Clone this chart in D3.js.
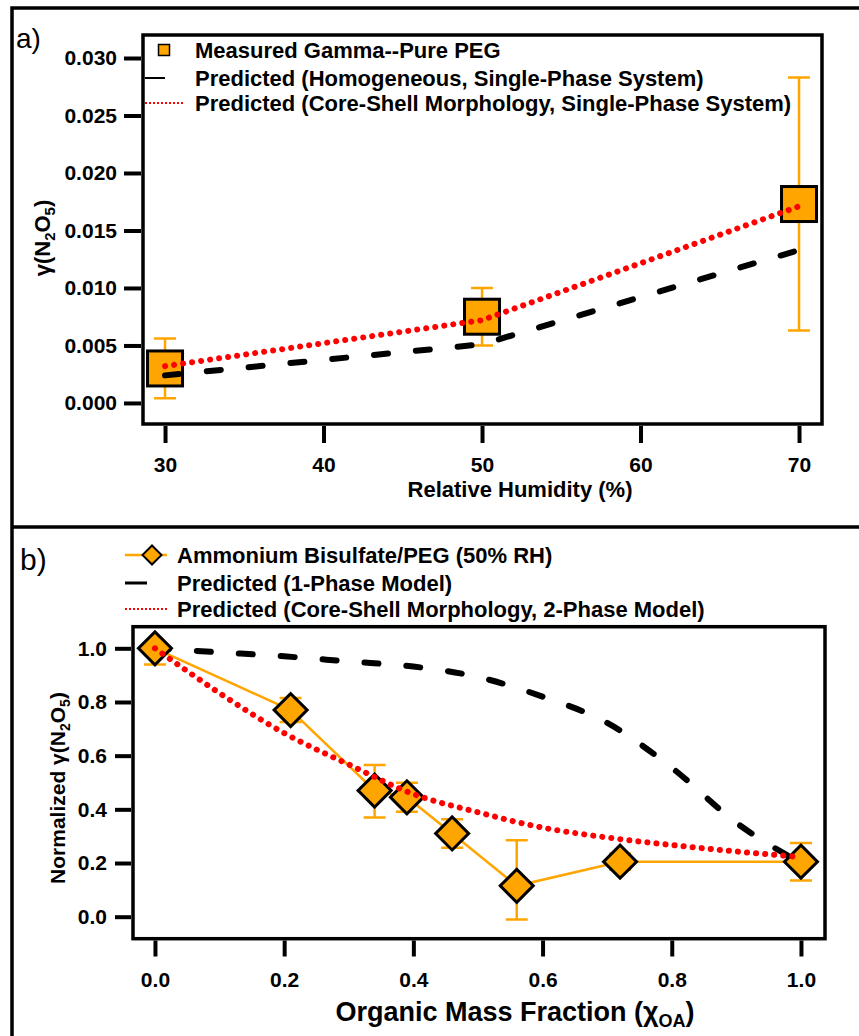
<!DOCTYPE html>
<html lang="en">
<head>
<meta charset="utf-8">
<title>N2O5 uptake: pure PEG and ammonium bisulfate/PEG</title>
<script src="https://cdn.jsdelivr.net/npm/d3@7"></script>
<style>
body { margin: 0; background: #fff; }
svg text { font-family: "Liberation Sans", Arial, sans-serif; }
</style>
</head>
<body>
<script>

// ---- panel a: pure PEG vs relative humidity ----
var rhValues = [30, 50, 70];
var gammaMeasured = [0.0030, 0.0075, 0.0173];
var gammaErr = [0.0026, 0.0025, 0.0110];
var gammaHomogeneous = [0.0024, 0.0051, 0.0133];
var gammaCoreShell = [0.0032, 0.0072, 0.0171];
var rhTicks = [30, 40, 50, 60, 70];
var gammaTicks = [0, 0.005, 0.010, 0.015, 0.020, 0.025, 0.030];
var legendA = ["Measured Gamma--Pure PEG",
               "Predicted (Homogeneous, Single-Phase System)",
               "Predicted (Core-Shell Morphology, Single-Phase System)"];

// ---- panel b: ammonium bisulfate/PEG at 50% RH ----
var chiValues = [0, 0.21, 0.34, 0.39, 0.46, 0.56, 0.72, 1.0];
var normMeasured = [1.0, 0.77, 0.47, 0.445, 0.31, 0.115, 0.205, 0.205];
var normErrLow = [0.06, 0.045, 0.10, 0.054, 0.053, 0.125, 0.03, 0.07];
var normErrHigh = [0, 0.045, 0.095, 0.054, 0.053, 0.17, 0.03, 0.07];
var chiModel = [0, 0.1, 0.2, 0.3, 0.4, 0.5, 0.6, 0.7, 0.8, 0.9, 1.0];
var norm1Phase = [1.0, 0.985, 0.970, 0.951, 0.932, 0.893, 0.82, 0.722, 0.555, 0.35, 0.2];
var normCoreShell = [1.0, 0.833, 0.684, 0.567, 0.457, 0.389, 0.332, 0.295, 0.267, 0.243, 0.222];
var chiTicks = [0, 0.2, 0.4, 0.6, 0.8, 1.0];
var normTicks = [0, 0.2, 0.4, 0.6, 0.8, 1.0];
var legendB = ["Ammonium Bisulfate/PEG (50% RH)",
               "Predicted (1-Phase Model)",
               "Predicted (Core-Shell Morphology, 2-Phase Model)"];

var w = 859, h = 1036;
var orange = "#FFA500", red = "#FF0000";

var svg = d3.select("body").append("svg")
            .attr("width", w)
            .attr("height", h);

// outer panel borders
svg.append("path")
   .attr("d", "M12,1036 V8 H859 M12,527 H859")
   .attr("fill", "none")
   .attr("stroke", "black")
   .attr("stroke-width", 3.5);

// ================= panel a =================
var xA = d3.scaleLinear().domain([28.61, 71.45]).range([143, 822]);
var yA = d3.scaleLinear().domain([-0.00183, 0.032]).range([424, 35]);

var gA = svg.append("g");

// error bars
rhValues.forEach(function(rh, i) {
	var x = xA(rh), yLo = yA(gammaMeasured[i] - gammaErr[i]), yHi = yA(gammaMeasured[i] + gammaErr[i]);
	gA.append("path")
	  .attr("d", "M" + x + "," + yLo + " V" + yHi +
	             " M" + (x - 11) + "," + yLo + " H" + (x + 11) +
	             " M" + (x - 11) + "," + yHi + " H" + (x + 11))
	  .attr("stroke", orange)
	  .attr("stroke-width", 2.5)
	  .attr("fill", "none");
});

// squares
gA.selectAll("rect.pt")
  .data(rhValues)
  .enter()
  .append("rect")
  .attr("class", "pt")
  .attr("x", function(d) { return xA(d) - 17.5; })
  .attr("y", function(d, i) { return yA(gammaMeasured[i]) - 17.5; })
  .attr("width", 35)
  .attr("height", 35)
  .attr("fill", orange)
  .attr("stroke", "black")
  .attr("stroke-width", 3);

var lineA = d3.line()
              .x(function(d) { return xA(d[0]); })
              .y(function(d) { return yA(d[1]); });

// homogeneous model (dashed)
gA.append("path")
  .attr("d", lineA(d3.zip(rhValues, gammaHomogeneous)))
  .attr("fill", "none")
  .attr("stroke", "black")
  .attr("stroke-width", 6)
  .attr("stroke-linecap", "round")
  .attr("stroke-dasharray", "14,28");

// core-shell model (dotted)
gA.append("path")
  .attr("d", lineA(d3.zip(rhValues, gammaCoreShell)))
  .attr("fill", "none")
  .attr("stroke", red)
  .attr("stroke-width", 6)
  .attr("stroke-linecap", "round")
  .attr("stroke-dasharray", "0.1,9");

// frame
svg.append("rect")
   .attr("x", 143).attr("y", 35)
   .attr("width", 822 - 143).attr("height", 424 - 35)
   .attr("fill", "none")
   .attr("stroke", "black")
   .attr("stroke-width", 3.5);

// axes
var yAxisA = svg.append("g")
   .attr("transform", "translate(141,0)")
   .call(d3.axisLeft(yA).tickValues(gammaTicks).tickFormat(d3.format(".3f")).tickSize(17).tickPadding(7));
var xAxisA = svg.append("g")
   .attr("transform", "translate(0,426)")
   .call(d3.axisBottom(xA).tickValues(rhTicks).tickFormat(d3.format("d")).tickSize(17).tickPadding(14));

[yAxisA, xAxisA].forEach(function(ax) {
	ax.select(".domain").remove();
	ax.selectAll("line").attr("stroke-width", 4);
	ax.selectAll("text")
	  .attr("font-size", "21px")
	  .attr("font-weight", "bold")
	  .attr("font-family", "'Liberation Sans', Arial, sans-serif")
	  .attr("fill", "black");
});

svg.append("text")
   .attr("x", 520).attr("y", 497)
   .attr("text-anchor", "middle")
   .attr("font-size", "22px")
   .attr("font-weight", "bold")
   .text("Relative Humidity (%)");

var labA = svg.append("text")
   .attr("transform", "translate(49.5,238) rotate(-90)")
   .attr("text-anchor", "middle")
   .attr("font-size", "22px")
   .attr("font-weight", "bold");
labA.append("tspan").text("\u03B3(N");
labA.append("tspan").attr("font-size", "15px").attr("dy", 5).text("2");
labA.append("tspan").attr("dy", -5).text("O");
labA.append("tspan").attr("font-size", "15px").attr("dy", 5).text("5");
labA.append("tspan").attr("dy", -5).text(")");

svg.append("text")
   .attr("x", 16).attr("y", 48)
   .attr("font-size", "28px")
   .text("a)");

// legend a
var legYA = [50, 78, 103];
svg.selectAll("text.legA")
   .data(legendA)
   .enter()
   .append("text")
   .attr("class", "legA")
   .attr("x", 195)
   .attr("y", function(d, i) { return legYA[i] + 7.5; })
   .attr("font-size", "22px")
   .attr("font-weight", "bold")
   .text(function(d) { return d; });
svg.append("rect")
   .attr("x", 158.5).attr("y", legYA[0] - 5.5)
   .attr("width", 11).attr("height", 11)
   .attr("fill", orange).attr("stroke", "black").attr("stroke-width", 1.5);
svg.append("line")
   .attr("x1", 145).attr("x2", 165).attr("y1", legYA[1]).attr("y2", legYA[1])
   .attr("stroke", "black").attr("stroke-width", 2);
svg.append("line")
   .attr("x1", 145).attr("x2", 185).attr("y1", legYA[2]).attr("y2", legYA[2])
   .attr("stroke", red).attr("stroke-width", 2).attr("stroke-dasharray", "2,2");

// ================= panel b =================
var xB = d3.scaleLinear().domain([-0.034, 1.0372]).range([133, 825]);
var yB = d3.scaleLinear().domain([-0.082, 1.0805]).range([938.7, 626.7]);

var gB = svg.append("g");

var lineB = d3.line()
              .x(function(d) { return xB(d[0]); })
              .y(function(d) { return yB(d[1]); });
var curveB = d3.line()
               .curve(d3.curveMonotoneX)
               .x(function(d) { return xB(d[0]); })
               .y(function(d) { return yB(d[1]); });

// 1-phase model (dashed, under markers)
gB.append("path")
  .attr("d", curveB(d3.zip(chiModel, norm1Phase)))
  .attr("fill", "none")
  .attr("stroke", "black")
  .attr("stroke-width", 6)
  .attr("stroke-linecap", "round")
  .attr("stroke-dasharray", "14,28");

// error bars
chiValues.forEach(function(c, i) {
	var x = xB(c), yLo = yB(normMeasured[i] - normErrLow[i]), yHi = yB(normMeasured[i] + normErrHigh[i]);
	var d = "M" + x + "," + yLo + " V" + yHi;
	if (normErrLow[i] > 0) d += " M" + (x - 11) + "," + yLo + " H" + (x + 11);
	if (normErrHigh[i] > 0) d += " M" + (x - 11) + "," + yHi + " H" + (x + 11);
	gB.append("path")
	  .attr("d", d)
	  .attr("stroke", orange)
	  .attr("stroke-width", 2.5)
	  .attr("fill", "none");
});

// connecting line
gB.append("path")
  .attr("d", lineB(d3.zip(chiValues, normMeasured)))
  .attr("fill", "none")
  .attr("stroke", orange)
  .attr("stroke-width", 2.5);

// diamonds
var diamond = d3.symbol().type(d3.symbolSquare).size(545);
gB.selectAll("path.pt")
  .data(chiValues)
  .enter()
  .append("path")
  .attr("class", "pt")
  .attr("d", diamond)
  .attr("transform", function(d, i) { return "translate(" + xB(d) + "," + yB(normMeasured[i]) + ") rotate(45)"; })
  .attr("fill", orange)
  .attr("stroke", "black")
  .attr("stroke-width", 3);

// core-shell 2-phase model (dotted, over markers)
gB.append("path")
  .attr("d", curveB(d3.zip(chiModel, normCoreShell)))
  .attr("fill", "none")
  .attr("stroke", red)
  .attr("stroke-width", 6)
  .attr("stroke-linecap", "round")
  .attr("stroke-dasharray", "0.1,9");

// frame
svg.append("rect")
   .attr("x", 133).attr("y", 626.7)
   .attr("width", 825 - 133).attr("height", 938.7 - 626.7)
   .attr("fill", "none")
   .attr("stroke", "black")
   .attr("stroke-width", 3.5);

var yAxisB = svg.append("g")
   .attr("transform", "translate(131,0)")
   .call(d3.axisLeft(yB).tickValues(normTicks).tickFormat(d3.format(".1f")).tickSize(16).tickPadding(8));
var xAxisB = svg.append("g")
   .attr("transform", "translate(0,940.5)")
   .call(d3.axisBottom(xB).tickValues(chiTicks).tickFormat(d3.format(".1f")).tickSize(16).tickPadding(16));

[yAxisB, xAxisB].forEach(function(ax) {
	ax.select(".domain").remove();
	ax.selectAll("line").attr("stroke-width", 4);
	ax.selectAll("text")
	  .attr("font-size", "21px")
	  .attr("font-weight", "bold")
	  .attr("font-family", "'Liberation Sans', Arial, sans-serif")
	  .attr("fill", "black");
});

var titleB = svg.append("text")
   .attr("x", 515).attr("y", 1021)
   .attr("text-anchor", "middle")
   .attr("font-size", "27px")
   .attr("font-weight", "bold");
titleB.append("tspan").text("Organic Mass Fraction (\u03C7");
titleB.append("tspan").attr("font-size", "18px").attr("dy", 6).text("OA");
titleB.append("tspan").attr("dy", -6).text(")");

var labB = svg.append("text")
   .attr("transform", "translate(65,788) rotate(-90)")
   .attr("text-anchor", "middle")
   .attr("font-size", "21px")
   .attr("font-weight", "bold");
labB.append("tspan").text("Normalized \u03B3(N");
labB.append("tspan").attr("font-size", "14px").attr("dy", 5).text("2");
labB.append("tspan").attr("dy", -5).text("O");
labB.append("tspan").attr("font-size", "14px").attr("dy", 5).text("5");
labB.append("tspan").attr("dy", -5).text(")");

svg.append("text")
   .attr("x", 20).attr("y", 570)
   .attr("font-size", "30px")
   .text("b)");

// legend b
var legYB = [555, 583, 609];
svg.selectAll("text.legB")
   .data(legendB)
   .enter()
   .append("text")
   .attr("class", "legB")
   .attr("x", 177)
   .attr("y", function(d, i) { return legYB[i] + 8; })
   .attr("font-size", "22px")
   .attr("font-weight", "bold")
   .text(function(d) { return d; });
svg.append("line")
   .attr("x1", 125).attr("x2", 167).attr("y1", legYB[0]).attr("y2", legYB[0])
   .attr("stroke", orange).attr("stroke-width", 2.5);
svg.append("path")
   .attr("d", d3.symbol().type(d3.symbolSquare).size(180))
   .attr("transform", "translate(152," + legYB[0] + ") rotate(45)")
   .attr("fill", orange).attr("stroke", "black").attr("stroke-width", 2);
svg.append("line")
   .attr("x1", 125).attr("x2", 147).attr("y1", legYB[1]).attr("y2", legYB[1])
   .attr("stroke", "black").attr("stroke-width", 3);
svg.append("line")
   .attr("x1", 125).attr("x2", 167).attr("y1", legYB[2]).attr("y2", legYB[2])
   .attr("stroke", red).attr("stroke-width", 2).attr("stroke-dasharray", "2,2");

</script>
</body>
</html>
